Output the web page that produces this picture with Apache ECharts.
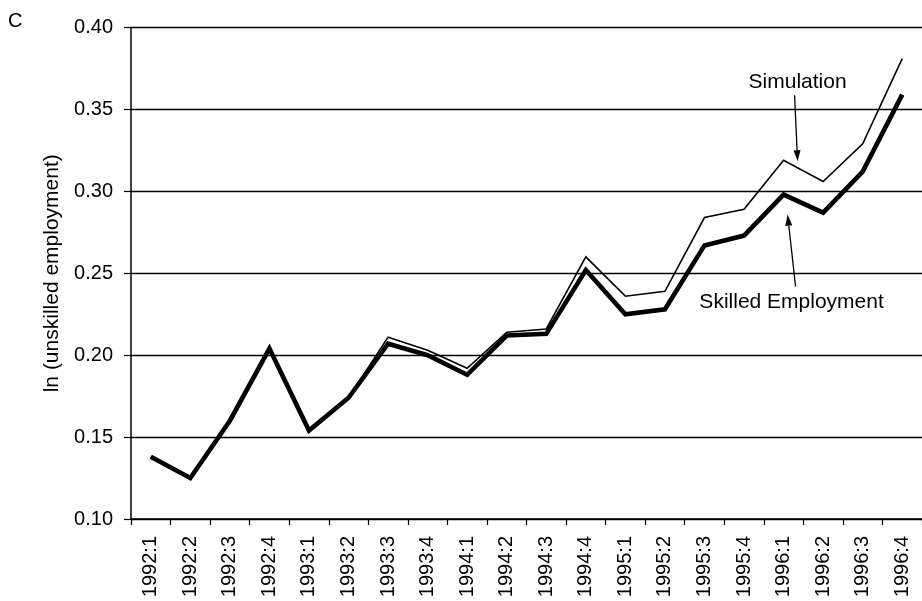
<!DOCTYPE html>
<html>
<head>
<meta charset="utf-8">
<script src="https://cdn.jsdelivr.net/npm/echarts@6/dist/echarts.min.js"></script>
<style>
html,body{margin:0;padding:0;background:#fff;}
#chart{width:922px;height:601px;}
</style>
</head>
<body>
<div id="chart"></div>
<script>
var categories = ['1992:1','1992:2','1992:3','1992:4','1993:1','1993:2','1993:3','1993:4',
  '1994:1','1994:2','1994:3','1994:4','1995:1','1995:2','1995:3','1995:4',
  '1996:1','1996:2','1996:3','1996:4'];
var skilled = [0.138,0.125,0.160,0.204,0.154,0.174,0.207,0.200,0.188,0.212,0.213,0.252,0.225,0.228,0.267,0.273,0.298,0.287,0.312,0.359];
var simulation = [0.138,0.125,0.160,0.204,0.154,0.174,0.211,0.203,0.192,0.214,0.216,0.260,0.236,0.239,0.284,0.289,0.319,0.306,0.329,0.381];
var yTicks = {min:0.10, max:0.40, interval:0.05};
var FONT = 'Liberation Sans, Arial, Helvetica, sans-serif';

var chart = echarts.init(document.getElementById('chart'), null, {renderer:'canvas'});
chart.setOption({
  animation:false,
  backgroundColor:'#fff',
  grid:{left:131, top:27.5, width:796, height:491.5, containLabel:false},
  xAxis:{
    type:'category', data:categories, boundaryGap:true,
    axisLine:{show:true, lineStyle:{color:'#000', width:1.5}},
    axisTick:{show:true, length:6, alignWithLabel:false, lineStyle:{color:'#000', width:1.2}},
    axisLabel:{rotate:90, margin:17, color:'#000', fontSize:20, fontFamily:FONT, interval:0},
    splitLine:{show:false}
  },
  yAxis:{
    type:'value', min:yTicks.min, max:yTicks.max, interval:yTicks.interval,
    name:'ln (unskilled employment)', nameLocation:'middle', nameGap:68,
    nameTextStyle:{color:'#000', fontSize:21, fontFamily:FONT},
    axisLine:{show:true, lineStyle:{color:'#000', width:1.5}},
    axisTick:{show:true, length:7, lineStyle:{color:'#000', width:1.2}},
    axisLabel:{margin:18, color:'#000', fontSize:20, fontFamily:FONT,
      formatter:function(v){return v.toFixed(2);}},
    splitLine:{show:true, lineStyle:{color:'#000', width:1.3}}
  },
  series:[
    {name:'Simulation', type:'line', data:simulation, symbol:'none', smooth:false,
      lineStyle:{color:'#000', width:1.6, join:'miter'}, z:2},
    {name:'Skilled Employment', type:'line', data:skilled, symbol:'none', smooth:false,
      lineStyle:{color:'#000', width:4.6, join:'miter'}, z:3}
  ]
});

function arrow(x1,y1,x2,y2){
  var dx=x2-x1, dy=y2-y1, L=Math.sqrt(dx*dx+dy*dy), ux=dx/L, uy=dy/L;
  var hl=11, hw=3.5;
  var bx=x2-ux*hl, by=y2-uy*hl;
  return [
    {type:'line', shape:{x1:x1,y1:y1,x2:bx,y2:by}, style:{stroke:'#000', lineWidth:1.3}, z:10},
    {type:'polygon', shape:{points:[[x2,y2],[bx-uy*hw,by+ux*hw],[bx+uy*hw,by-ux*hw]]}, style:{fill:'#000'}, z:10}
  ];
}
var i16 = 16;
var p1 = chart.convertToPixel({gridIndex:0}, [categories[i16], simulation[i16]]);
var p2 = chart.convertToPixel({gridIndex:0}, [categories[i16], skilled[i16]]);
var g = [
  {type:'text', left:8, top:11, style:{text:'C', fill:'#000', font:'20px '+FONT}, z:10},
  {type:'text', x:p1[0]+14, y:p1[1]-78, style:{text:'Simulation', fill:'#000', font:'21px '+FONT, align:'center', verticalAlign:'middle'}, z:10},
  {type:'text', x:p2[0]+8, y:p2[1]+108, style:{text:'Skilled Employment', fill:'#000', font:'21px '+FONT, align:'center', verticalAlign:'middle'}, z:10}
];
g = g.concat(arrow(p1[0]+11, p1[1]-65, p1[0]+14, p1[1]+1));
g = g.concat(arrow(p2[0]+12, p2[1]+92, p2[0]+4, p2[1]+20));
chart.setOption({graphic:g});
</script>
</body>
</html>
